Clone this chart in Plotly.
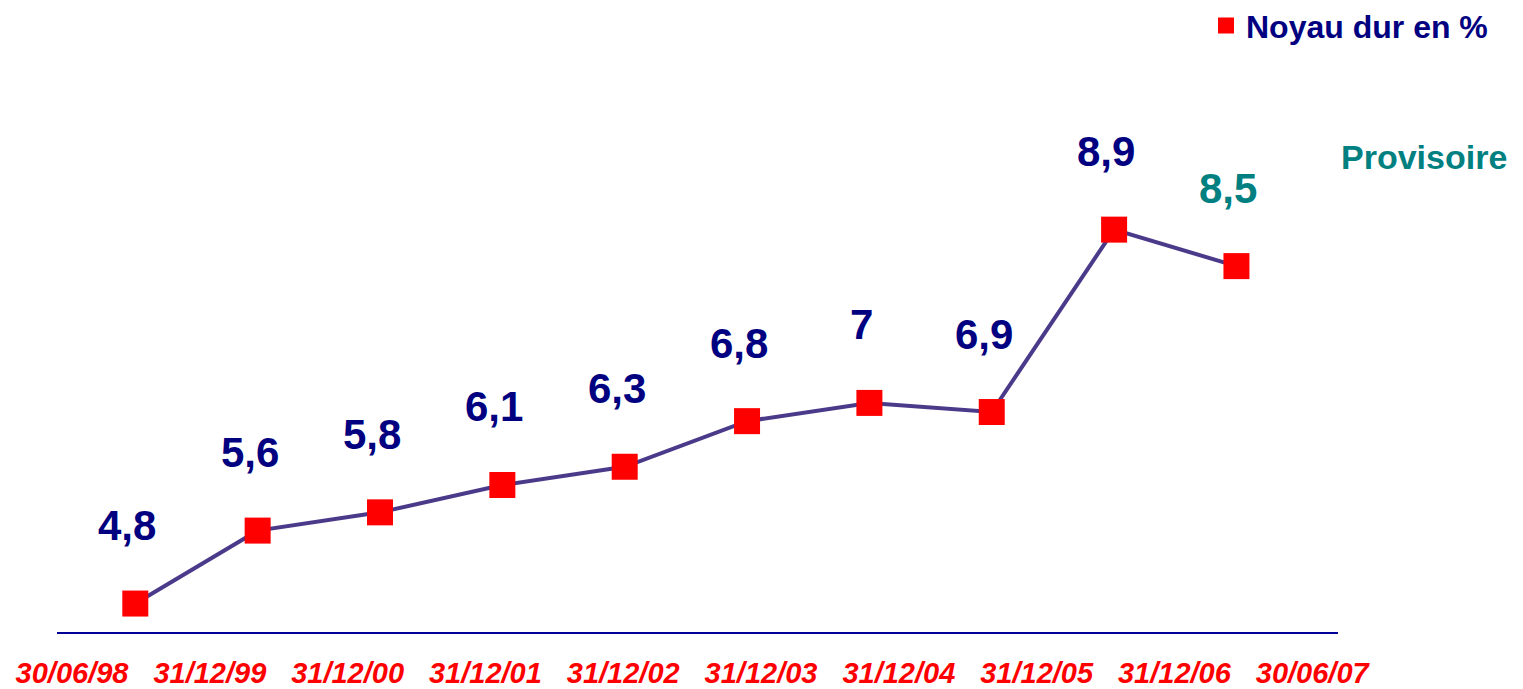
import plotly.graph_objects as go

dates = ["30/06/98", "31/12/99", "31/12/00", "31/12/01", "31/12/02",
         "31/12/03", "31/12/04", "31/12/05", "31/12/06", "30/06/07"]
values = [4.8, 5.6, 5.8, 6.1, 6.3, 6.8, 7.0, 6.9, 8.9, 8.5]
labels = ["4,8", "5,6", "5,8", "6,1", "6,3", "6,8", "7", "6,9", "8,9", "8,5"]
label_colors = ["#000080"] * 9 + ["#008080"]

FONT = "Arial, Liberation Sans, sans-serif"
NAVY = "#000080"

fig = go.Figure()
fig.add_trace(go.Scatter(
    x=dates, y=values, mode="lines+markers",
    line=dict(color="#4B3A8A", width=4),
    marker=dict(symbol="square", size=26, color="#FF0000"),
    showlegend=False, hoverinfo="skip",
))
# carrier trace for the date tick-label axis
fig.add_trace(go.Scatter(
    x=list(range(len(dates))), y=[None] * len(dates), xaxis="x2",
    mode="markers", showlegend=False, hoverinfo="skip",
))
# legend-only entry (marker only)
fig.add_trace(go.Scatter(
    x=[None], y=[None], mode="markers", name="Noyau dur en %",
    marker=dict(symbol="square", size=20, color="#FF0000"),
))

for d, v, t, c in zip(dates, values, labels, label_colors):
    fig.add_annotation(x=d, y=v, text=t, showarrow=False, yshift=78, xshift=-8,
                       font=dict(family=FONT, size=42, color=c, weight="bold"))

fig.add_annotation(xref="paper", yref="paper", x=1.067, y=0.83, text="Provisoire",
                   showarrow=False, xanchor="center", yanchor="middle",
                   font=dict(family=FONT, size=34, color="#008080", weight="bold"))

fig.update_layout(
    width=1523, height=689,
    margin=dict(l=49, r=193, t=52, b=65, autoexpand=False),
    paper_bgcolor="white", plot_bgcolor="white",
    xaxis=dict(type="category", range=[-0.64, 9.83], showgrid=False, zeroline=False,
               showline=True, linecolor="#000099", linewidth=2,
               showticklabels=False, ticks="", automargin=False),
    xaxis2=dict(overlaying="x", anchor="y", side="bottom", type="linear",
                range=[-0.109, 9.187], tickmode="array",
                tickvals=list(range(len(dates))), ticktext=dates,
                showgrid=False, zeroline=False, showline=False, automargin=False,
                ticks="outside", ticklen=15, tickcolor="rgba(0,0,0,0)",
                tickfont=dict(family=FONT, size=29, color="#FF0000",
                              weight="bold", style="italic")),
    yaxis=dict(range=[4.488, 10.76], visible=False, automargin=False),
    legend=dict(x=1.121, xanchor="right", y=1.108, yanchor="top",
                font=dict(family=FONT, size=32, color=NAVY, weight="bold"),
                bgcolor="rgba(0,0,0,0)"),
)
fig.write_html("out.html")
